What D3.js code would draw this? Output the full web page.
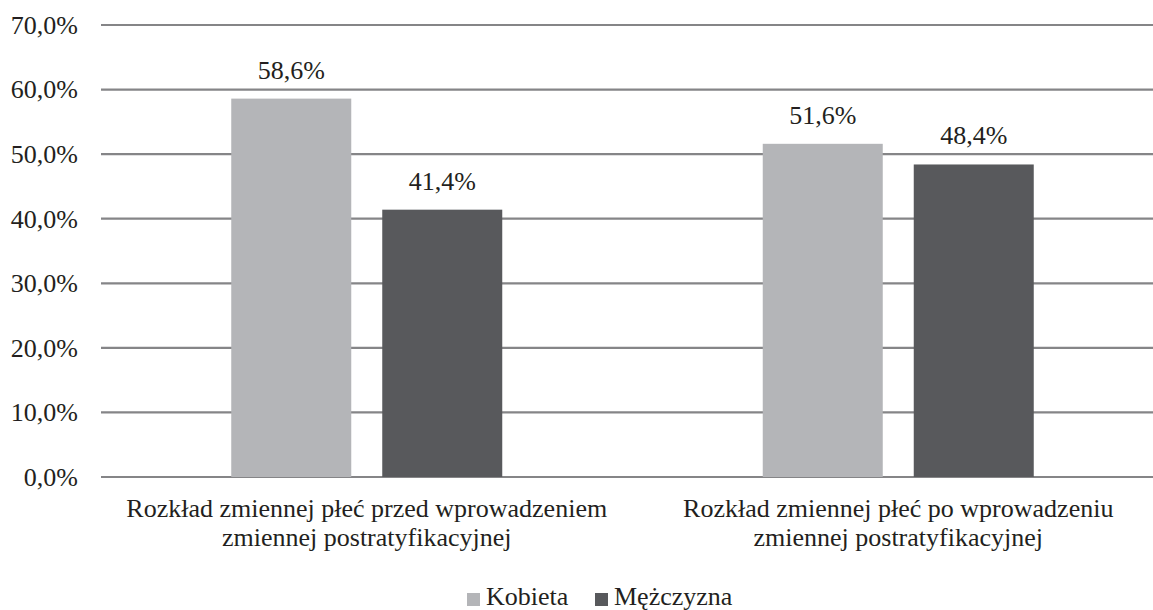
<!DOCTYPE html>
<html><head><meta charset="utf-8">
<script src="https://d3js.org/d3.v7.min.js"></script>
<style>body{margin:0;background:#fff}svg{display:block}</style>
</head><body><div id="chart"></div>
<script>
const categories = [
  ["Rozkład zmiennej płeć przed wprowadzeniem", "zmiennej postratyfikacyjnej"],
  ["Rozkład zmiennej płeć po wprowadzeniu", "zmiennej postratyfikacyjnej"]
];
const seriesNames = ["Kobieta", "Mężczyzna"];
const kobieta = [58.6, 51.6];
const mezczyzna = [41.4, 48.4];
const yTicks = [0, 10, 20, 30, 40, 50, 60, 70];
const colors = ["#b4b5b8", "#58595c"];

const FONT = "Tinos, 'Liberation Serif', 'Times New Roman', serif";
const FS = 26;
const W = 1153, H = 610;
const svg = d3.select("#chart").append("svg").attr("width", W).attr("height", H)
  .attr("font-family", FONT).attr("fill", "#231f20");
const m = {left: 101, right: 1164, top: 25, bottom: 477};

const y = d3.scaleLinear().domain([0, 70]).range([m.bottom, m.top]);
const x0 = d3.scaleBand().domain([0, 1]).range([m.left, m.right]).paddingInner(0).paddingOuter(0);
const groupW = 271;
const x1 = d3.scaleBand().domain(seriesNames)
  .range([(x0.bandwidth() - groupW) / 2, (x0.bandwidth() + groupW) / 2])
  .paddingInner(31 / 151).paddingOuter(0);

svg.append("g").selectAll("line").data(yTicks).join("line")
  .attr("x1", m.left).attr("x2", W)
  .attr("y1", d => y(d)).attr("y2", d => y(d))
  .attr("stroke", "#858587").attr("stroke-width", 2.2);

const fmt = v => v.toFixed(1).replace(".", ",") + "%";

svg.append("g").selectAll("text").data(yTicks).join("text")
  .attr("x", 78).attr("y", d => y(d)).attr("dy", "0.34em")
  .attr("text-anchor", "end").attr("font-size", FS)
  .text(fmt);

const data = [];
categories.forEach((c, i) => {
  data.push({cat: i, s: seriesNames[0], v: kobieta[i], c: colors[0]});
  data.push({cat: i, s: seriesNames[1], v: mezczyzna[i], c: colors[1]});
});

svg.append("g").selectAll("rect").data(data).join("rect")
  .attr("x", d => x0(d.cat) + x1(d.s))
  .attr("width", x1.bandwidth())
  .attr("y", d => y(d.v))
  .attr("height", d => y(0) - y(d.v))
  .attr("fill", d => d.c);

svg.append("g").selectAll("text").data(data).join("text")
  .attr("x", d => x0(d.cat) + x1(d.s) + x1.bandwidth() / 2)
  .attr("y", d => y(d.v) - 20)
  .attr("text-anchor", "middle").attr("font-size", FS)
  .text(d => fmt(d.v));

const cg = svg.append("g").selectAll("text").data(categories).join("text")
  .attr("text-anchor", "middle").attr("font-size", FS);
cg.selectAll("tspan").data((d, i) => d.map(t => ({t, i}))).join("tspan")
  .attr("x", d => x0(d.i) + x0.bandwidth() / 2)
  .attr("y", (d, j) => 517 + j * 29)
  .text(d => d.t);

const legend = svg.append("g");
const lx = [467, 595];
seriesNames.forEach((s, i) => {
  legend.append("rect").attr("x", lx[i]).attr("y", 593).attr("width", 13).attr("height", 13).attr("fill", colors[i]);
  legend.append("text").attr("x", lx[i] + 19).attr("y", 605).attr("font-size", FS).text(s);
});
</script></body></html>
